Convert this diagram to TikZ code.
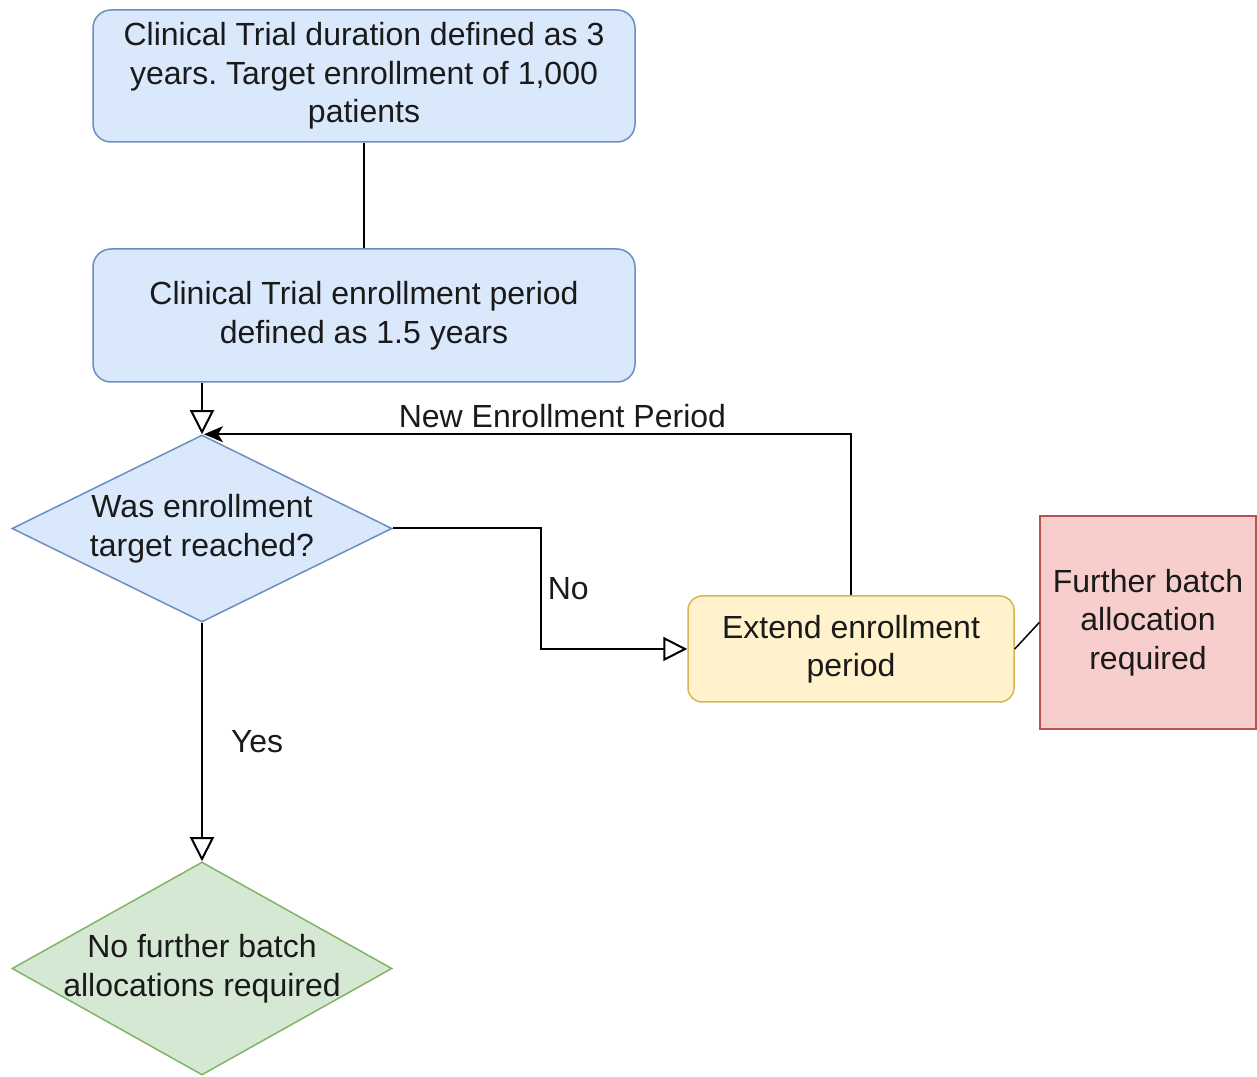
\documentclass[tikz,border=0pt]{standalone}
\usepackage{fontspec}
\setmainfont{Liberation Sans}
\usetikzlibrary{arrows.meta,shapes.geometric}
\frenchspacing

\definecolor{blueFill}{HTML}{DAE8FC}
\definecolor{blueLine}{HTML}{6C8EBF}
\definecolor{yellowFill}{HTML}{FFF2CC}
\definecolor{yellowLine}{HTML}{D6B656}
\definecolor{redFill}{HTML}{F8CECC}
\definecolor{redLine}{HTML}{B85450}
\definecolor{greenFill}{HTML}{D5E8D4}
\definecolor{greenLine}{HTML}{82B366}
\definecolor{ink}{HTML}{1A1A1A}

\tikzset{
  every node/.style={font=\fontsize{32}{38.5}\selectfont, text=ink},
  roundbox/.style={draw=#1Line, fill=#1Fill, line width=1.5pt, rounded corners=18pt,
    align=center, inner sep=0pt},
  plainbox/.style={draw=#1Line, fill=#1Fill, line width=1.5pt,
    align=center, inner sep=0pt},
  decision/.style={diamond, draw=#1Line, fill=#1Fill, line width=1.5pt, inner sep=0pt,
    minimum width=380pt},
  link/.style={draw=black, line width=2pt},
  openarrow/.style={link, -{Triangle[open, length=24pt, width=24pt, line width=2pt]}},
  backarrow/.style={link, -{Stealth[length=19pt, width=16pt, inset=5pt]}},
  edgelabel/.style={inner sep=0pt},
}

\begin{document}
\begin{tikzpicture}[x=1pt, y=1pt]
  \useasboundingbox (0,0) rectangle (1257,1076);

  % process boxes
  \node[roundbox=blue, minimum width=542pt, minimum height=132pt] (b1) at (364,1000)
    {Clinical Trial duration defined as 3\\years. Target enrollment of 1,000\\patients};
  \node[roundbox=blue, minimum width=542pt, minimum height=133pt] (b2) at (364,760.5)
    {Clinical Trial enrollment period\\defined as 1.5 years};

  % decisions
  \node[decision=blue, minimum height=187pt,
        label={[align=center]center:Was enrollment\\target reached?}] (d1) at (202,547.5) {};
  \node[decision=green, minimum height=213pt,
        label={[align=center]center:No further batch\\allocations required}] (d2) at (202,107.5) {};

  % loop branch
  \node[roundbox=yellow, rounded corners=14pt, minimum width=326pt, minimum height=106pt] (ext)
    at (851,427) {Extend enrollment\\period};
  \node[plainbox=red, minimum width=216pt, minimum height=213pt] (red) at (1148,453.5)
    {Further batch\\allocation\\required};

  % connectors
  \draw[link] (b1) -- (b2);
  \draw[openarrow] (d1.north |- b2.south) -- (d1.north);
  \draw[openarrow] (d1.east) -- ++(148,0)
    |- node[pos=0.25, anchor=west, edgelabel, xshift=6pt] (lblno) {No} (ext.west);
  \draw[backarrow] (ext.north)
    |- node[pos=0.723, anchor=south, edgelabel, yshift=5pt] (lblnew) {New Enrollment Period}
    ([xshift=2pt]d1.north);
  \draw[openarrow] (d1.south) -- node[pos=0.5, anchor=west, edgelabel, xshift=28pt] (lblyes) {Yes} (d2.north);
  \draw[link, line width=1.5pt] (ext.east) -- (red.west);
\end{tikzpicture}
\end{document}
